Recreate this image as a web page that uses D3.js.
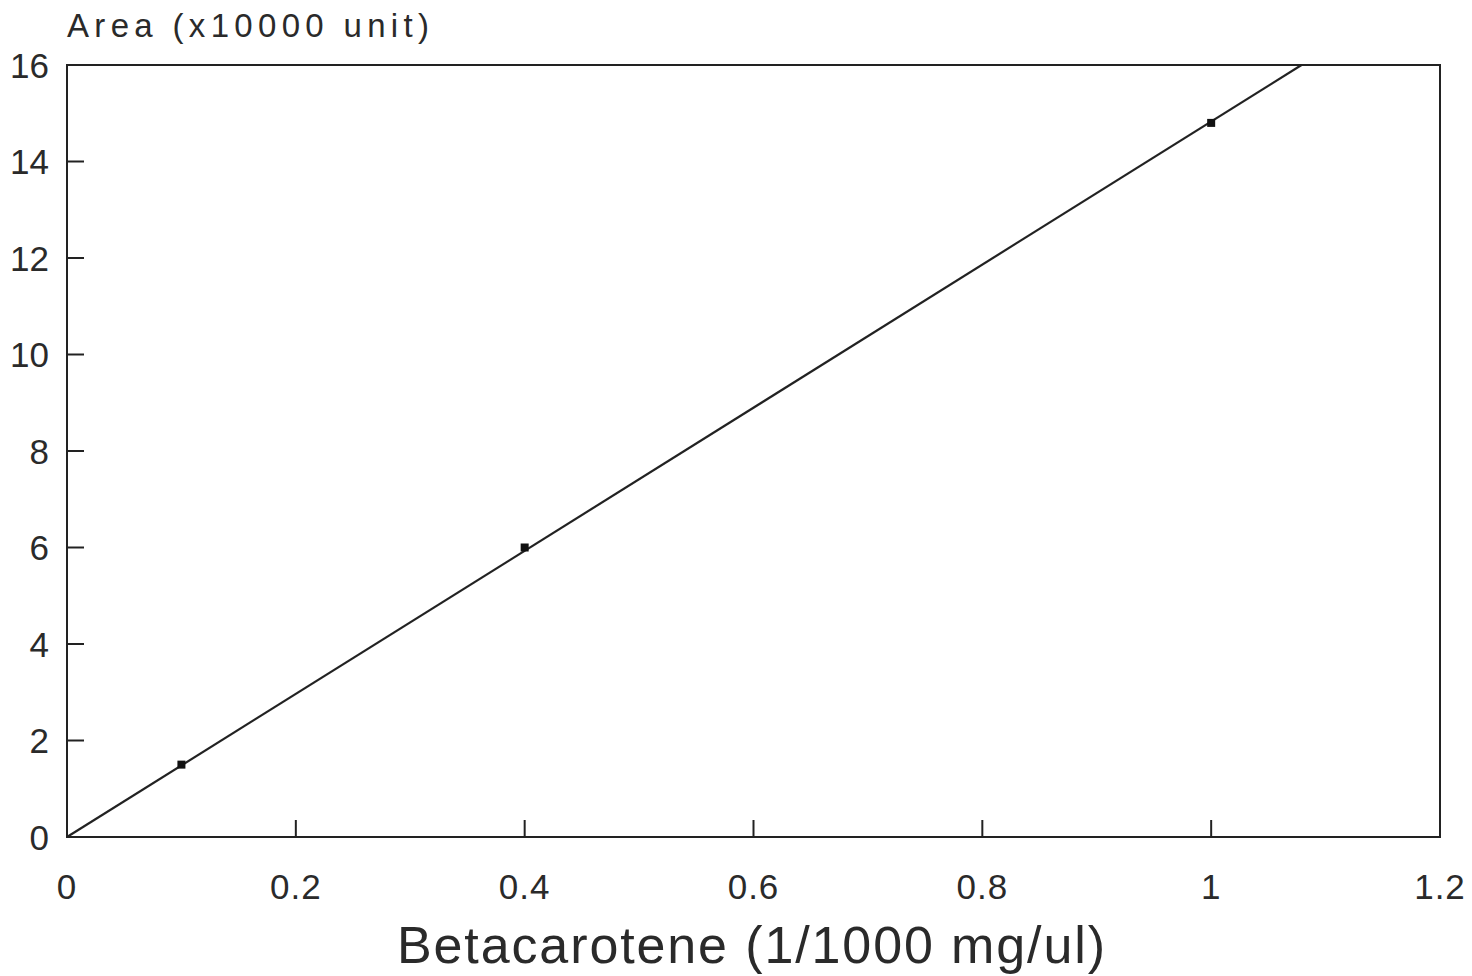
<!DOCTYPE html>
<html>
<head>
<meta charset="utf-8">
<script src="https://cdn.jsdelivr.net/npm/d3@7"></script>
<style>
  body { margin: 0; background: #fff; }
  text { font-family: "Liberation Sans", Arial, sans-serif; fill: #2a2a2a; }
</style>
</head>
<body>
<div id="chart"></div>
<script>
// calibration points
var concentration = [0.1, 0.4, 1.0];
var area = [1.5, 6.0, 14.8];
var xTicks = [0, 0.2, 0.4, 0.6, 0.8, 1, 1.2];
var yTicks = [0, 2, 4, 6, 8, 10, 12, 14, 16];

var width = 1472, height = 976;
var margin = { left: 67, right: 32, top: 65, bottom: 139 };

var svg = d3.select("#chart").append("svg")
  .attr("width", width)
  .attr("height", height);

var x = d3.scaleLinear().domain([0, 1.2]).range([margin.left, width - margin.right]);
var y = d3.scaleLinear().domain([0, 16]).range([height - margin.bottom, margin.top]);

// least squares line through origin
var sxy = d3.sum(concentration, function(d, i) { return d * area[i]; });
var sxx = d3.sum(concentration, function(d) { return d * d; });
var slope = sxy / sxx;

// frame
svg.append("rect")
  .attr("x", x(0)).attr("y", y(16))
  .attr("width", x(1.2) - x(0)).attr("height", y(0) - y(16))
  .attr("fill", "none")
  .attr("stroke", "#222")
  .attr("stroke-width", 2);

// inward ticks
svg.selectAll(".xt").data(xTicks.slice(1, -1)).enter().append("line")
  .attr("x1", function(d) { return x(d); }).attr("x2", function(d) { return x(d); })
  .attr("y1", y(0)).attr("y2", y(0) - 17)
  .attr("stroke", "#222").attr("stroke-width", 2);

svg.selectAll(".yt").data(yTicks.slice(1, -1)).enter().append("line")
  .attr("x1", x(0)).attr("x2", x(0) + 17)
  .attr("y1", function(d) { return y(d); }).attr("y2", function(d) { return y(d); })
  .attr("stroke", "#222").attr("stroke-width", 2);

// tick labels
svg.selectAll(".xl").data(xTicks).enter().append("text")
  .attr("x", function(d) { return x(d); })
  .attr("y", y(0) + 62)
  .attr("text-anchor", "middle")
  .attr("font-size", 35)
  .attr("letter-spacing", 1)
  .text(function(d) { return d; });

svg.selectAll(".yl").data(yTicks).enter().append("text")
  .attr("x", 49)
  .attr("y", function(d) { return y(d) + 12.5; })
  .attr("text-anchor", "end")
  .attr("font-size", 35)
  .text(function(d) { return d; });

// regression line, clipped at top of frame
var xEnd = 16 / slope;
svg.append("line")
  .attr("x1", x(0)).attr("y1", y(0))
  .attr("x2", x(xEnd)).attr("y2", y(16))
  .attr("stroke", "#222").attr("stroke-width", 2.2);

// points
svg.selectAll(".pt").data(concentration).enter().append("rect")
  .attr("x", function(d) { return x(d) - 4; })
  .attr("y", function(d, i) { return y(area[i]) - 4; })
  .attr("width", 8).attr("height", 8)
  .attr("fill", "#111");

// axis titles
svg.append("text")
  .attr("x", 67).attr("y", 37)
  .attr("font-size", 33)
  .attr("textLength", 362)
  .text("Area (x10000 unit)");

svg.append("text")
  .attr("x", 397).attr("y", 963)
  .attr("font-size", 52)
  .attr("textLength", 708)
  .text("Betacarotene (1/1000 mg/ul)");
</script>
</body>
</html>
